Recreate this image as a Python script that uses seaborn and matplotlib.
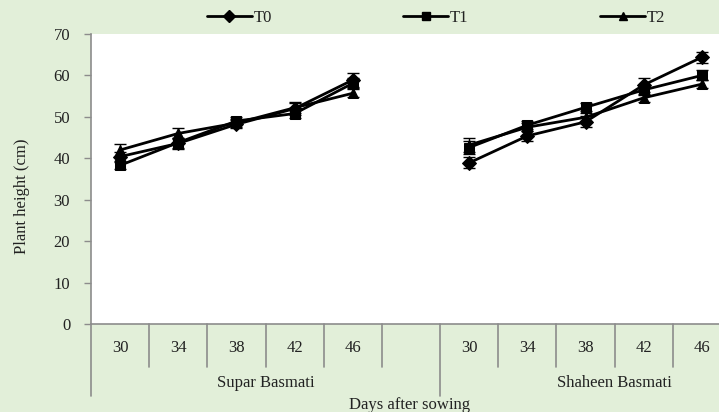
import numpy as np
import pandas as pd
import matplotlib
matplotlib.use("Agg")
import matplotlib.pyplot as plt
import matplotlib.transforms as mtransforms
from matplotlib.lines import Line2D
import seaborn as sns

# data
days = [30, 34, 38, 42, 46]
varieties = ["Supar Basmati", "Shaheen Basmati"]
treatments = ["T0", "T1", "T2"]

supar_t0 = [40.4, 43.6, 48.2, 52.0, 58.9]
supar_t1 = [38.3, 43.8, 49.0, 50.8, 58.1]
supar_t2 = [42.0, 46.0, 48.5, 52.2, 55.7]
shaheen_t0 = [38.9, 45.4, 48.8, 57.7, 64.4]
shaheen_t1 = [42.6, 48.0, 52.3, 56.5, 60.0]
shaheen_t2 = [43.2, 47.5, 49.9, 54.6, 57.9]

supar_t0_err = [1.2, 1.3, 1.0, 1.5, 1.6]
supar_t1_err = [1.0, 1.2, 1.0, 1.0, 1.2]
supar_t2_err = [1.5, 1.4, 1.0, 1.2, 1.0]
shaheen_t0_err = [1.3, 1.3, 1.3, 1.6, 1.3]
shaheen_t1_err = [1.5, 1.0, 1.0, 1.2, 1.2]
shaheen_t2_err = [1.6, 1.0, 1.0, 1.0, 1.0]

values = {
    ("Supar Basmati", "T0"): (supar_t0, supar_t0_err),
    ("Supar Basmati", "T1"): (supar_t1, supar_t1_err),
    ("Supar Basmati", "T2"): (supar_t2, supar_t2_err),
    ("Shaheen Basmati", "T0"): (shaheen_t0, shaheen_t0_err),
    ("Shaheen Basmati", "T1"): (shaheen_t1, shaheen_t1_err),
    ("Shaheen Basmati", "T2"): (shaheen_t2, shaheen_t2_err),
}

rows = []
for vi, var in enumerate(varieties):
    for tr in treatments:
        ys, es = values[(var, tr)]
        for di, d in enumerate(days):
            rows.append({"pos": vi * 6 + di, "variety": var, "treatment": tr,
                         "day": d, "height": ys[di], "err": es[di]})
df = pd.DataFrame(rows)

sns.set_theme(style="white")
plt.rcParams["font.family"] = ["Liberation Serif", "DejaVu Serif"]

BG = "#e2efd9"
GRID = "#8c8c8c"
TXT = "#222222"
FS = 12
markers = {"T0": "D", "T1": "s", "T2": "^"}

fig = plt.figure(figsize=(7.19, 4.12), dpi=100, facecolor=BG)
ax = fig.add_axes([91 / 719, 88 / 412, 640 / 719, 290 / 412])
ax.set_facecolor("white")

sns.lineplot(data=df, x="pos", y="height", hue="treatment", style="treatment",
             units="variety", estimator=None, markers=markers, dashes=False,
             palette=["black"] * 3, linewidth=2.0, markersize=7,
             markeredgecolor="black", legend=False, ax=ax, zorder=3)
ax.errorbar(df["pos"], df["height"], yerr=df["err"], fmt="none",
            ecolor="black", elinewidth=1.0, capsize=4, capthick=1.0, zorder=2)

ax.set_xlim(-0.5, 10.5)
ax.set_ylim(0, 70)
ax.set_yticks(range(0, 71, 10))
ax.set_xticks([])
ax.set_xlabel("")
ax.set_ylabel("Plant height (cm)", fontsize=FS, color=TXT)
ax.yaxis.set_label_coords(-61 / 640, 0.44)
ax.tick_params(axis="y", length=5, width=1, color=GRID, labelsize=FS,
               labelcolor=TXT, left=True, direction="out", pad=10)
for s in ["top", "right"]:
    ax.spines[s].set_visible(False)
for s in ["left", "bottom"]:
    ax.spines[s].set_color(GRID)
    ax.spines[s].set_linewidth(1.2)

# multi-level category axis
trans = mtransforms.blended_transform_factory(ax.transData, ax.transAxes)
h_ax = 290.0
lvl1 = -43 / h_ax
lvl2 = -72 / h_ax
for b in np.arange(-0.5, 10.6, 1.0):
    y_end = lvl2 if b in (-0.5, 5.5, 10.5) else lvl1
    ax.plot([b, b], [0, y_end], transform=trans, color=GRID, lw=1.2,
            clip_on=False)
for vi, var in enumerate(varieties):
    for di, d in enumerate(days):
        ax.text(vi * 6 + di, -24 / h_ax, str(d), transform=trans, ha="center",
                va="center", fontsize=FS, color=TXT)
    ax.text(vi * 6 + 2.5, -59 / h_ax, var, transform=trans, ha="center",
            va="center", fontsize=FS, color=TXT)
fig.text(410 / 719, 1 - 405 / 412, "Days after sowing", ha="center",
         va="center", fontsize=FS, color=TXT)

handles = [Line2D([0], [0], color="black", lw=2.0, marker=markers[t],
                  markersize=6, markerfacecolor="black") for t in treatments]
fig.legend(handles, treatments, ncol=3, loc="center",
           bbox_to_anchor=(436 / 719, 1 - 18 / 412), frameon=False,
           fontsize=FS, handlelength=2.7, handletextpad=0.1,
           columnspacing=7.9, labelcolor=TXT)

fig.savefig("out.png", dpi=100, facecolor=BG)
